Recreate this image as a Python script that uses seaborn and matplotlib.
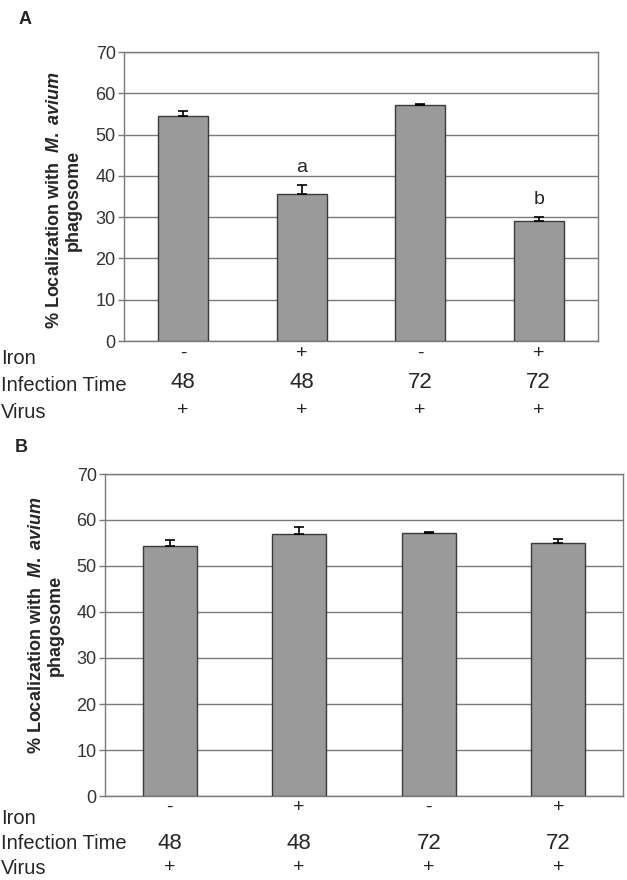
import matplotlib
matplotlib.use("Agg")
import matplotlib.pyplot as plt
import matplotlib.transforms as mtransforms
import seaborn as sns
import pandas as pd

# ---- data ----
conditions = ["c1", "c2", "c3", "c4"]
iron = ["-", "+", "-", "+"]
infection_time = ["48", "48", "72", "72"]
virus = ["+", "+", "+", "+"]
values_a = [54.5, 35.6, 57.1, 29.0]
errors_a = [1.2, 2.2, 0.3, 1.0]
values_b = [54.3, 57.0, 57.2, 55.0]
errors_b = [1.3, 1.5, 0.3, 0.9]
letters_a = ["", "a", "", "b"]
row_names = ["Iron", "Infection Time", "Virus"]
yticks = [0, 10, 20, 30, 40, 50, 60, 70]

sns.set_theme(style="white")
plt.rcParams["font.family"] = ["Liberation Sans", "DejaVu Sans"]
plt.rcParams["mathtext.fontset"] = "custom"
plt.rcParams["mathtext.it"] = "Liberation Sans:italic:bold"
plt.rcParams["mathtext.rm"] = "Liberation Sans:bold"
plt.rcParams["mathtext.bf"] = "Liberation Sans:bold"

W, H = 627, 880
fig = plt.figure(figsize=(W / 100, H / 100), dpi=100)

def px_axes(l, r, t, b):
    return fig.add_axes([l / W, 1 - b / H, (r - l) / W, (b - t) / H])

ax_a = px_axes(124, 598, 52, 341)
ax_b = px_axes(105, 623, 474, 796)

grid_c = "#7a7a7a"

def draw(ax, vals, errs, letters, rows_y, label_x, label_rows_px, ylabel_x, panel, panel_xy, shift):
    df = pd.DataFrame({"cond": conditions, "val": vals})
    sns.barplot(data=df, x="cond", y="val", ax=ax, color="#9a9a9a",
                saturation=1, width=0.42, edgecolor="#3a3a3a", linewidth=1.0,
                errorbar=None, zorder=3)
    ax.errorbar(range(len(vals)), vals, yerr=[[0] * len(vals), errs], fmt="none",
                ecolor="black", elinewidth=1.2, capsize=3.6, capthick=1.2, zorder=4)
    ax.set_ylim(0, 70)
    ax.set_xlim(-0.5, 3.5)
    ax.set_yticks(yticks)
    ax.set_yticklabels([str(t) for t in yticks], fontsize=13, color="#333333")
    ax.yaxis.grid(True, color=grid_c, linewidth=1.0, zorder=0)
    ax.set_axisbelow(True)
    ax.tick_params(axis="y", which="major", left=True, length=4, width=1.0,
                   color=grid_c, pad=2)
    ax.tick_params(axis="x", bottom=False, labelbottom=False)
    ax.set_xlabel("")
    ax.set_ylabel("")
    for s in ax.spines.values():
        s.set_color(grid_c)
        s.set_linewidth(1.0)
        s.set_visible(True)
    for i, t in enumerate(letters):
        if t:
            ax.text(i, vals[i] + errs[i] + 4.2, t, ha="center", va="center", fontsize=14)
    trans = mtransforms.blended_transform_factory(ax.transData, ax.transAxes)
    for i in range(len(conditions)):
        ax.text(i, rows_y[0], iron[i], transform=trans, ha="center", va="center", fontsize=14)
        ax.text(i, rows_y[1], infection_time[i], transform=trans, ha="center", va="center", fontsize=16)
        ax.text(i, rows_y[2], virus[i], transform=trans, ha="center", va="center", fontsize=14)
    for name, ypx in zip(row_names, label_rows_px):
        fig.text(label_x / W, 1 - ypx / H, name, ha="left", va="center", fontsize=14.5)
    fig.text(ylabel_x / W, 1 - (shift) / H,
             "% Localization with  $\\it{M.\\ avium}$\nphagosome",
             rotation=90, ha="center", va="center", fontsize=13,
             fontweight="bold", linespacing=1.1, multialignment="center")
    fig.text(panel_xy[0] / W, 1 - panel_xy[1] / H, panel, ha="center", va="center",
             fontsize=13, fontweight="bold")

draw(ax_a, values_a, errors_a, letters_a, [-0.042, -0.145, -0.239], 1,
     [358, 385, 413], 64, "A", (25, 20), 200)
draw(ax_b, values_b, errors_b, ["", "", "", ""], [-0.036, -0.146, -0.222], 1,
     [818, 843, 868], 46, "B", (21, 448), 625)

fig.savefig("out.png", dpi=100)
